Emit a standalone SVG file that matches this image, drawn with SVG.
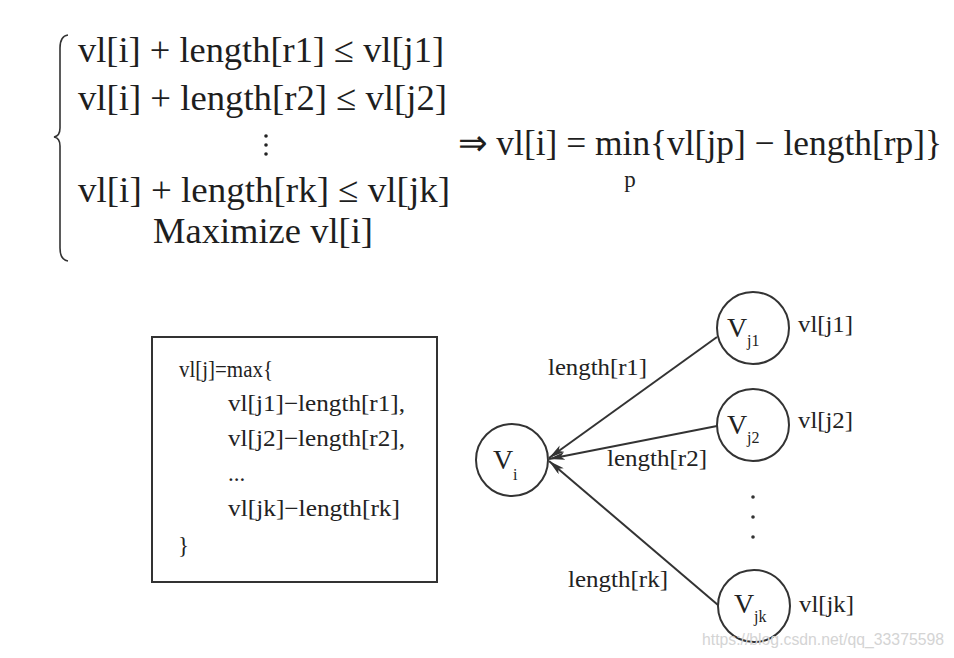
<svg xmlns="http://www.w3.org/2000/svg" width="954" height="658" viewBox="0 0 954 658">
<defs>
<style>
.eq{font-family:"Liberation Serif","Times New Roman",serif;font-size:36px;fill:#1e1e1e}
.t{font-family:"Liberation Serif","Times New Roman",serif;font-size:23px;fill:#222}
.v{font-family:"Liberation Serif","Times New Roman",serif;font-size:28px;fill:#222}
.sub{font-family:"Liberation Serif","Times New Roman",serif;font-size:16px;fill:#222}
.node{fill:#fff;stroke:#333;stroke-width:2}
.edge{stroke:#333;stroke-width:2;fill:none;marker-end:url(#arr)}
.wm{font-family:"Liberation Sans",Arial,sans-serif;font-size:17px;fill:#d4d4d4}
</style>
<marker id="arr" viewBox="0 0 16 8" refX="16" refY="4" markerWidth="16" markerHeight="8" markerUnits="userSpaceOnUse" orient="auto">
<path d="M0,0 L16,4 L0,8 L4,4 Z" fill="#333"/>
</marker>
</defs>
<rect width="954" height="658" fill="#fff"/>

<g id="equations">
<path d="M68,35 Q60,36 60,48 L60,128 Q60,136 54,137 Q60,138 60,146 L60,248 Q60,260 68,261" fill="none" stroke="#333" stroke-width="1.6"/>
<text class="eq" x="78" y="62" textLength="366" lengthAdjust="spacingAndGlyphs">vl[i] + length[r1] ≤ vl[j1]</text>
<text class="eq" x="78" y="110" textLength="369" lengthAdjust="spacingAndGlyphs">vl[i] + length[r2] ≤ vl[j2]</text>
<circle cx="266" cy="136" r="1.8" fill="#222"/>
<circle cx="266" cy="145" r="1.8" fill="#222"/>
<circle cx="266" cy="154" r="1.8" fill="#222"/>
<text class="eq" x="78" y="202" textLength="372" lengthAdjust="spacingAndGlyphs">vl[i] + length[rk] ≤ vl[jk]</text>
<text class="eq" x="153" y="243" textLength="220" lengthAdjust="spacingAndGlyphs">Maximize vl[i]</text>
<text class="eq" x="458" y="155" textLength="484" lengthAdjust="spacingAndGlyphs">⇒ vl[i] = min{vl[jp] − length[rp]}</text>
<text class="t" x="630" y="187" text-anchor="middle">p</text>
</g>

<g id="formula-box">
<rect x="152" y="337" width="285" height="245" fill="none" stroke="#333" stroke-width="2"/>
<text class="t" x="179" y="377" textLength="94" lengthAdjust="spacingAndGlyphs">vl[j]=max{</text>
<text class="t" x="228" y="411" textLength="177" lengthAdjust="spacingAndGlyphs">vl[j1]−length[r1],</text>
<text class="t" x="228" y="446" textLength="177" lengthAdjust="spacingAndGlyphs">vl[j2]−length[r2],</text>
<text class="t" x="228" y="481">...</text>
<text class="t" x="228" y="516" textLength="172" lengthAdjust="spacingAndGlyphs">vl[jk]−length[rk]</text>
<text class="t" x="178" y="553">}</text>
</g>

<g id="edges">
<line class="edge" x1="717" y1="337" x2="549" y2="458"/>
<line class="edge" x1="717" y1="426" x2="549" y2="459"/>
<line class="edge" x1="718" y1="605" x2="549" y2="461"/>
<text class="t" x="548" y="375" textLength="99" lengthAdjust="spacingAndGlyphs">length[r1]</text>
<text class="t" x="607" y="466" textLength="100" lengthAdjust="spacingAndGlyphs">length[r2]</text>
<text class="t" x="568" y="587" textLength="100" lengthAdjust="spacingAndGlyphs">length[rk]</text>
</g>

<g id="node-vi">
<circle class="node" cx="512" cy="460" r="36"/>
<text class="v" x="493" y="469">V</text>
<text class="sub" x="513" y="480">i</text>
</g>

<g id="node-vj1">
<circle class="node" cx="753" cy="328" r="36"/>
<text class="v" x="727" y="337">V</text>
<text class="sub" x="747" y="346">j1</text>
<text class="t" x="798" y="332" textLength="55" lengthAdjust="spacingAndGlyphs">vl[j1]</text>
</g>

<g id="node-vj2">
<circle class="node" cx="753" cy="425" r="36"/>
<text class="v" x="727" y="434">V</text>
<text class="sub" x="747" y="443">j2</text>
<text class="t" x="798" y="428" textLength="55" lengthAdjust="spacingAndGlyphs">vl[j2]</text>
</g>

<g id="dots">
<circle cx="753" cy="497" r="1.8" fill="#333"/>
<circle cx="753" cy="517" r="1.8" fill="#333"/>
<circle cx="753" cy="537" r="1.8" fill="#333"/>
</g>

<g id="node-vjk">
<circle class="node" cx="754" cy="606" r="36"/>
<text class="v" x="734" y="613">V</text>
<text class="sub" x="754" y="622">jk</text>
<text class="t" x="799" y="612" textLength="55" lengthAdjust="spacingAndGlyphs">vl[jk]</text>
</g>

<text class="wm" x="702" y="645" textLength="242" lengthAdjust="spacingAndGlyphs">https://blog.csdn.net/qq_33375598</text>
</svg>
